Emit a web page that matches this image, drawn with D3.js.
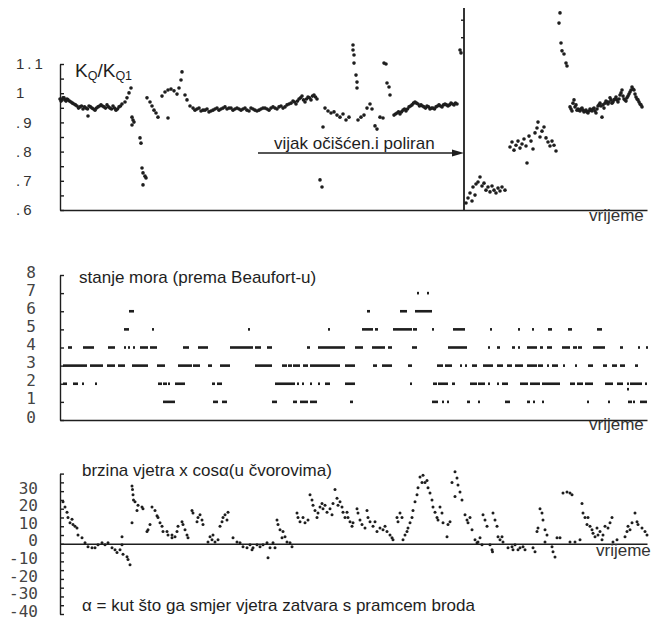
<!DOCTYPE html>
<html><head><meta charset="utf-8">
<script src="https://cdn.jsdelivr.net/npm/d3@7"></script>
<style>
html,body{margin:0;padding:0;background:#fff;}
svg{display:block;}
</style></head>
<body>
<svg id="c" width="662" height="620"></svg>
<script>
// ---------- DATA ----------
// common time axis (arbitrary units)
const timeDomain = [0, 117.4];

// Panel 1: K_Q / K_Q1 ratio  [time, value]
const kqRatio = [
[0,0.980],[0.2,0.973],[0.4,0.977],[0.6,0.984],[0.8,0.984],[1.0,0.977],[1.2,0.973],[1.4,0.980],[1.6,0.977],[1.9,0.973],[2.2,0.970],[2.5,0.966],
[2.8,0.963],[3.1,0.960],[3.4,0.956],[3.7,0.949],[4.0,0.953],[4.3,0.956],[4.6,0.946],[4.9,0.953],[5.2,0.949],[5.5,0.946],[5.6,0.922],[5.8,0.956],
[6.1,0.953],[6.4,0.949],[6.7,0.946],[7.0,0.942],[7.3,0.949],[7.6,0.953],[7.9,0.956],[8.2,0.960],[8.5,0.956],[8.8,0.953],[9.1,0.949],[9.4,0.960],
[9.7,0.953],[10.0,0.949],[10.3,0.946],[10.6,0.956],[10.9,0.949],[11.2,0.942],[11.5,0.946],[11.8,0.953],[12.1,0.956],
[12.4,0.963],[13.0,0.970],[13.4,0.984],[13.8,1.001],[14.2,1.018],[14.4,0.918],[14.6,0.908],
[14.4,0.891],[14.8,0.901],[16.0,0.847],[16.2,0.829],[16.4,0.744],[16.6,0.727],[17.0,0.716],[17.2,0.710],[16.6,0.686],[17.4,0.984],
[18.0,0.970],[18.4,0.956],[18.8,0.942],[19.2,0.932],[19.6,0.918],[21.6,0.915],[20.4,0.990],[21.0,1.004],[21.6,1.011],[22.2,1.014],
[22.8,1.008],[23.4,0.997],[23.8,1.018],[24.2,1.045],[24.4,1.073],[25.0,0.994],[25.4,0.977],[26.0,0.956],[26.6,0.949],
[27.0,0.942],[27.4,0.946],[27.8,0.949],[28.2,0.939],[28.6,0.942],[29.0,0.942],[29.4,0.946],[29.8,0.936],[30.2,0.939],[30.6,0.942],
[31.0,0.946],[31.4,0.949],[31.8,0.942],[32.2,0.946],[32.6,0.949],[33.0,0.953],[33.4,0.946],[33.8,0.949],[34.2,0.949],[34.6,0.942],
[35.0,0.946],[35.4,0.949],[35.8,0.946],[36.2,0.942],[36.6,0.946],[37.0,0.949],[37.4,0.942],[37.8,0.939],[38.2,0.949],[38.6,0.946],
[39.0,0.942],[39.4,0.939],[39.8,0.942],[40.2,0.946],[40.6,0.949],[41.0,0.949],[41.4,0.946],[41.8,0.942],[42.2,0.949],[42.6,0.953],
[43.0,0.949],[43.4,0.946],[43.8,0.953],[44.2,0.956],[44.6,0.949],[45.0,0.953],[45.4,0.960],[45.8,0.963],[46.2,0.966],[46.6,0.973],
[46.9,0.970],[47.2,0.963],[47.5,0.973],[47.8,0.980],[48.1,0.984],[48.4,0.990],[48.7,0.977],[49.0,0.970],[49.3,0.980],[49.6,0.987],
[49.9,0.984],[50.2,0.977],[50.5,0.990],[50.8,0.994],[51.1,0.987],[51.4,0.980],
[52.0,0.703],[52.4,0.679],[52.6,0.884],[53.0,0.949],[53.6,0.939],[54.2,0.932],[54.8,0.936],
[55.4,0.925],[56.0,0.918],[56.6,0.929],[57.2,0.908],[57.8,0.918],[58.6,1.165],[58.6,1.148],[58.8,1.131],[58.8,1.103],[59.2,1.062],
[59.4,1.038],[59.4,1.018],[59.6,0.908],[60.2,0.918],[60.8,0.925],[61.4,0.949],[62.0,0.963],[62.4,0.946],[63.0,0.888],[63.4,0.877],
[64.0,0.918],[64.6,0.915],[64.8,1.103],[65.2,1.100],[65.4,1.035],[65.8,1.021],[66.0,0.994],
[66.8,0.925],[67.1,0.929],[67.4,0.932],[67.7,0.936],[68.0,0.929],[68.3,0.936],[68.6,0.942],[68.9,0.946],[69.2,0.939],[69.5,0.946],
[69.8,0.953],[70.1,0.956],[70.4,0.960],[70.7,0.966],[71.0,0.970],[71.3,0.966],[71.6,0.963],[71.9,0.956],[72.2,0.960],[72.5,0.956],
[72.8,0.953],[73.1,0.949],[73.4,0.956],[73.7,0.953],[74.0,0.946],[74.3,0.949],[74.6,0.949],[74.9,0.946],[75.2,0.953],[75.5,0.956],
[75.8,0.960],[76.1,0.956],[76.4,0.953],[76.7,0.960],[77.0,0.963],[77.3,0.960],[77.6,0.956],[77.9,0.960],[78.2,0.966],[78.5,0.963],
[78.8,0.960],[79.1,0.966],[79.4,0.963],[80.0,1.148],[80.2,1.138],
[81.2,0.624],[81.6,0.641],[82.0,0.658],[82.4,0.631],[82.6,0.679],[83.0,0.651],[83.2,0.689],[83.6,0.696],[84.0,0.713],[84.4,0.682],
[84.8,0.692],[85.2,0.668],[85.6,0.679],[86.0,0.662],[86.4,0.682],[86.8,0.668],[87.2,0.658],[87.6,0.675],[88.0,0.665],[88.4,0.679],
[89.0,0.668],
[90.0,0.816],[90.4,0.833],[90.8,0.805],[91.2,0.822],[91.6,0.836],[92.0,0.812],[92.4,0.826],[92.8,0.843],[93.2,0.819],[93.4,0.761],
[93.8,0.853],[94.2,0.836],[94.6,0.809],[95.0,0.864],[95.4,0.881],[95.6,0.901],[96.0,0.850],[96.4,0.870],[96.8,0.884],[97.2,0.847],
[97.6,0.833],[98.0,0.819],[98.4,0.836],[98.8,0.822],[99.2,0.802],
[100.0,1.275],[99.8,1.240],[100.2,1.172],[100.4,1.145],[100.8,1.134],[101.2,1.103],[101.4,1.093],
[102.0,0.953],[102.2,0.946],[102.4,0.939],[102.6,0.966],[102.8,0.977],[103.0,0.953],[103.2,0.960],[103.4,0.942],[103.6,0.946],[103.8,0.942],
[104.0,0.939],[104.2,0.946],[104.4,0.949],[104.6,0.942],[104.8,0.936],[105.0,0.939],[105.2,0.942],[105.4,0.936],[105.6,0.932],[105.8,0.939],
[106.0,0.946],[106.2,0.942],[106.4,0.939],[106.6,0.946],[106.8,0.949],[107.0,0.939],[107.2,0.932],[107.4,0.946],[107.6,0.956],[107.8,0.960],
[108.0,0.966],[108.2,0.956],[108.4,0.918],[108.6,0.960],[108.8,0.949],[109.0,0.966],[109.2,0.973],[109.4,0.970],[109.6,0.963],[109.8,0.970],
[110.0,0.984],[110.2,0.977],[110.4,0.966],[110.6,0.970],[110.8,0.977],[111.0,0.980],[111.2,0.987],[111.4,0.977],[111.6,0.970],[111.8,0.980],
[112.0,0.994],[112.2,1.001],[112.4,1.011],[112.6,0.990],[112.8,0.980],[113.0,0.977],[113.2,0.973],[113.4,0.984],[113.6,0.990],[113.8,0.997],
[114.0,1.004],[114.2,1.011],[114.4,1.021],[114.6,1.014],[114.8,1.011],[115.0,0.997],[115.2,0.987],[115.4,0.980],[115.6,0.977],[115.8,0.970],
[116.0,0.963],[116.2,0.960],[116.4,0.953]
];
const kqTicks = [0.6,0.65,0.7,0.75,0.8,0.85,0.9,0.95,1.0,1.05,1.1];
const kqTickLabels = [[1.1,"1.1"],[1.0,"1"],[0.9,".9"],[0.8,".8"],[0.7,".7"],[0.6,".6"]];
const cleaningTime = 80.8;      // propeller cleaned and polished
const arrowStartTime = 39.6;
const arrowValue = 0.795;
const annotationText = "vijak očišćen.i poliran";

// Panel 2: sea state (Beaufort)  [start, end, level]
const seaState = [
[71.4,71.8,7],[73.4,73.8,7],
[13.8,14.8,6],[61.4,62.0,6],[68.0,69.4,6],[71.0,74.4,6],
[12.8,13.8,5],[18.4,18.8,5],[37.6,38.0,5],[53.6,54.0,5],[60.4,62.6,5],[63.0,63.6,5],[66.6,70.4,5],[70.6,71.4,5],[74.4,74.6,5],
[78.6,81.0,5],[86.0,86.4,5],[91.6,92.0,5],[94.4,94.6,5],[97.6,98.4,5],[101.6,102.4,5],[107.4,108.4,5],
[1.6,2.4,4],[4.6,6.8,4],[9.6,11.0,4],[12.8,13.2,4],[13.6,14.0,4],[14.6,14.8,4],[16.0,17.6,4],[18.0,19.4,4],[24.6,25.8,4],[27.6,29.6,4],
[34.0,38.6,4],[39.0,40.2,4],[41.4,42.4,4],[49.4,50.0,4],[51.6,57.0,4],[59.0,60.6,4],[62.4,65.0,4],[65.6,66.4,4],[70.4,71.4,4],[77.6,81.4,4],
[85.6,86.0,4],[87.4,88.0,4],[90.4,91.0,4],[91.6,92.0,4],[93.4,95.4,4],[96.0,96.6,4],[97.4,98.4,4],[100.4,102.0,4],[102.6,103.4,4],[103.6,104.4,4],
[106.6,109.0,4],[112.0,112.6,4],[115.6,116.0,4],[117.2,117.4,4],
[0.6,5.4,3],[6.0,8.6,3],[9.4,11.0,3],[11.6,13.0,3],[14.4,17.6,3],[19.4,21.0,3],[23.6,26.4,3],[26.6,28.0,3],[29.6,30.4,3],[32.0,34.0,3],
[39.0,42.4,3],[44.4,45.4,3],[45.6,46.4,3],[46.6,48.0,3],[48.6,49.6,3],[50.0,56.0,3],[57.0,59.0,3],[62.6,63.4,3],[64.4,66.4,3],[69.6,70.4,3],
[75.4,76.6,3],[77.0,78.4,3],[80.0,80.4,3],[81.0,81.4,3],[82.4,83.4,3],[84.6,86.6,3],[87.4,88.6,3],[89.4,90.4,3],[91.0,92.6,3],[93.4,95.4,3],
[95.6,96.6,3],[97.4,97.6,3],[98.4,99.6,3],[100.6,101.0,3],[103.0,103.4,3],[105.6,106.6,3],[108.6,109.4,3],[110.4,111.4,3],[112.0,113.0,3],[115.0,115.6,3],
[0.6,1.4,2],[2.6,3.6,2],[4.4,4.6,2],[7.0,7.4,2],[19.6,20.4,2],[20.6,21.4,2],[21.6,22.0,2],[23.0,25.0,2],[30.4,31.0,2],[31.4,32.4,2],
[43.0,47.0,2],[47.4,47.6,2],[48.4,48.6,2],[50.0,50.4,2],[51.6,52.0,2],[53.0,54.0,2],[57.0,59.0,2],[70.0,70.4,2],[74.6,75.4,2],[75.6,77.6,2],
[78.4,79.0,2],[82.0,83.4,2],[83.6,85.0,2],[85.6,86.0,2],[87.4,87.6,2],[88.4,89.6,2],[92.0,93.6,2],[94.0,96.0,2],[96.4,100.0,2],[102.0,103.0,2],
[103.4,104.6,2],[105.0,106.6,2],[109.0,110.6,2],[111.4,112.6,2],[113.4,113.6,2],[114.0,116.4,2],[117.0,117.4,2],[113.4,113.6,1.7],
[20.6,23.0,1],[30.6,31.6,1],[32.4,33.4,1],[42.4,43.4,1],[46.6,47.4,1],[48.0,49.6,1],[50.0,51.4,1],[58.0,58.6,1],[74.4,75.6,1],[76.4,76.6,1],
[77.4,77.6,1],[81.4,82.0,1],[83.6,84.0,1],[89.0,90.0,1],[93.4,94.0,1],[94.6,95.0,1],[96.4,96.6,1],[105.4,105.6,1],[109.6,110.0,1],[113.6,114.4,1],
[114.6,115.0,1],[116.0,117.4,1]
];
const seaTicks = [0,1,2,3,4,5,6,7,8];
const seaTickLabels = ["0","1","2","3","4","5","6","7","8"];

// Panel 3: wind speed x cos(alpha) in knots  [time, value]
const windComp = [
[0.6,24],[1.0,21],[1.4,18],[1.6,15],[2.0,12],[2.4,14],[2.6,11],[3.0,10],[3.4,9],[3.6,5],[4.4,3.4],[5.0,0.6],[5.6,-1.7],[6.4,-2.3],
[7.0,-2.3],[7.6,-0.6],[8.4,0.6],[9.0,-0.6],[9.6,0.6],[10.4,-2.3],[11.0,-3.4],[11.4,-5],[12.0,-3.4],[12.4,-0.6],[12.6,-6],[13.4,-7.4],
[13.6,-9],[14.0,-12],[12.4,4],
[14.4,33],[14.5,31],[14.6,28],[14.7,25],[15.0,24],[15.6,22],[15.4,19],[14.4,12],[16.4,21],[16.6,20],[18.4,21],[19.0,19],[19.4,16],
[17.6,8],[17.4,7],[18.0,11],[19.6,15],[20.0,12],[20.4,10],[20.6,7],[21.4,7],[21.6,5],[22.4,5],[23.0,4],[22.4,3.4],[23.4,7],[23.6,10],
[24.4,12.5],[24.6,11],[25.0,8],[25.4,5],[25.6,3.4],[26.4,19],[26.6,17.6],[27.4,12.5],[27.6,15],[28.0,16.5],[28.4,13.6],[28.6,11],
[29.6,1],[30.0,4],[30.4,2.3],[30.6,5],[31.0,1],[31.6,2.3],[32.0,10],[32.4,12.5],[32.6,15],[33.0,16.5],[33.4,13.6],[33.6,18],
[34.6,3.4],[35.4,1],[36.0,0.6],[36.6,-1.7],[37.4,-2.3],[38.0,-0.6],[38.4,-3.4],[38.6,-2.3],[39.4,-0.6],[40.0,-1.7],[40.6,-0.6],
[41.4,0.6],[42.0,-2.3],[41.6,-8],[42.6,0.6],[43.0,-2.3],[43.4,13.6],[43.6,11],[44.0,8],[44.4,3.4],[44.6,7],[45.0,4],[45.4,1],
[46.0,0.6],[46.4,-1.7],[47.4,17.6],[47.6,15],[48.0,12.5],[48.6,15],[49.0,12],[49.6,13.6],[50.0,28],[50.4,25],[50.6,22],[51.0,19],
[51.4,15],[51.6,17.6],[52.0,21],[52.4,23],[52.6,20],[53.0,22],[53.4,18],[54.0,20],[54.4,16.5],[54.6,23],[55.0,31],[55.4,26],
[55.6,22],[56.0,24],[56.4,21],[56.6,18],[57.0,15],[57.4,18],[57.6,15],[58.0,12.5],[58.4,10],[58.6,12],[59.4,20],[59.6,17.6],
[60.0,13.6],[60.4,11],[61.0,9],[61.4,19],[61.6,15],[62.0,12.5],[62.6,10],[63.0,12.5],[63.4,7],[64.0,9],[64.6,8],[65.0,10],
[65.4,7],[66.0,5],[66.4,3.4],[66.6,2.3],[67.4,15],[67.6,12.5],[68.0,17.6],[68.4,15],[68.6,2.3],[69.0,5],[69.4,7],[69.6,9],
[70.0,12],[70.4,15],[70.6,19],[71.0,24],[71.4,28],[71.6,32],[72.0,38],[72.4,35],[72.6,39],[73.0,35],[73.4,36],[73.6,32],
[74.0,29],[74.4,25],[74.6,21],[75.0,18],[75.4,15],[75.6,13.6],[76.0,21],[76.4,17.6],[76.6,12],[77.4,4],[77.6,11],[78.0,12.5],
[78.4,35],[79.0,41],[79.4,37.5],[79.6,33.5],[80.0,29.5],[79.0,27],[80.4,25],[81.0,16.5],[81.4,13.6],[81.6,12],[82.0,15],[82.4,8],
[83.0,2.3],[83.4,0.6],[83.6,1],[84.0,3.4],[84.4,-0.6],[84.6,16.5],[85.0,13.6],[85.4,10],[86.0,-0.6],[86.4,-3.4],[86.5,-4.5],
[86.6,17.6],[87.0,13.6],[87.4,10],[87.6,4],[88.0,2.3],[88.4,4],[88.6,1],[89.6,-2.3],[90.4,-1.7],[90.6,-3.4],[91.0,-0.6],
[91.6,-3.4],[92.0,-2.3],[92.6,-1.7],[93.0,-3.4],[94.6,-2.3],[95.0,-4.5],[95.4,7],[95.6,9],[96.0,20],[96.4,17.6],[96.6,13.6],
[97.0,8],[97.4,5],[97.0,1],[98.4,-1.7],[98.6,-4.5],[99.0,-7.5],[99.4,3.4],[100.0,3.4],[100.6,29],[101.4,29.5],[102.0,29],
[102.4,28],[102.0,1],[103.0,1],[104.0,2.3],[104.4,23],[104.6,17.6],[105.0,15],[105.6,15],[105.4,11],[106.0,10],[106.4,8],
[106.6,6],[107.0,4],[107.4,9],[107.6,5],[108.0,7],[108.4,2.3],[108.6,5],[109.0,10],[109.6,9],[110.0,12],[110.4,15],[110.6,1],
[111.4,2.3],[113.0,4],[113.4,7],[113.6,10],[114.0,8],[114.4,12],[115.0,17.6],[115.4,12.5],[115.6,11],[116.4,9],[117.0,7],[117.4,5]
];
const windTicks = d3.range(-40, 41, 5);
const windTickLabels = [30,20,10,0,-10,-20,-30,-40];

const kqTitle = ["K","Q","/","K","Q1"];
const seaTitle = "stanje mora (prema Beaufort-u)";
const windTitle = "brzina vjetra x cosα(u čvorovima)";
const alphaNote = "α = kut što ga smjer vjetra zatvara s pramcem broda";
const timeLabel = "vrijeme";

// ---------- DRAW ----------
const ink = "#1e1e1e";
const svg = d3.select("#c");
svg.append("rect").attr("width",662).attr("height",620).attr("fill","#fff");

const x = d3.scaleLinear().domain(timeDomain).range([60, 647]);
const sans = "'Liberation Sans', Arial, sans-serif";
const mono = "'DejaVu Sans Mono', monospace";

function yAxis(g, scale, ticks){
  const ax = d3.axisRight(scale).tickValues(ticks).tickSize(4).tickSizeOuter(0).tickFormat("");
  g.call(ax);
  g.selectAll("path,line").attr("stroke", ink).attr("stroke-width", 1.4);
}
function xAxisLine(g){
  g.call(d3.axisBottom(x).tickValues([]).tickSizeOuter(0));
  g.selectAll("path").attr("stroke", ink).attr("stroke-width", 1.6);
}

// Panel 1
const y1 = d3.scaleLinear().domain([0.6, 1.1]).range([210, 64]);
const p1 = svg.append("g");
yAxis(p1.append("g").attr("transform","translate(60,0)"), y1, kqTicks);
xAxisLine(p1.append("g").attr("transform",`translate(0,${y1(0.6)})`));
p1.selectAll("text.tl").data(kqTickLabels).join("text")
  .attr("x",16).attr("y",d=>y1(d[0])).attr("dy","0.35em")
  .attr("font-family",sans).attr("font-size",15).attr("letter-spacing","3px").attr("fill","#333")
  .text(d=>d[1]);
const t1 = p1.append("text").attr("x",75).attr("y",77).attr("font-family",sans).attr("fill",ink);
t1.append("tspan").attr("font-size",19).text(kqTitle[0]);
t1.append("tspan").attr("font-size",12.5).attr("dy",3).text(kqTitle[1]);
t1.append("tspan").attr("font-size",19).attr("dy",-3).text(kqTitle[2]);
t1.append("tspan").attr("font-size",19).text(kqTitle[3]);
t1.append("tspan").attr("font-size",12.5).attr("dy",3).text(kqTitle[4]);
// cleaning event line
const cx = x(cleaningTime);
p1.append("line").attr("x1",cx).attr("x2",cx).attr("y1",8).attr("y2",y1(0.6))
  .attr("stroke",ink).attr("stroke-width",1.8);
p1.selectAll("line.vt").data([1.25,1.19]).join("line").attr("class","vt")
  .attr("x1",cx-3).attr("x2",cx).attr("y1",d=>y1(d)).attr("y2",d=>y1(d)).attr("stroke",ink).attr("stroke-width",1.4);
const ay = y1(arrowValue);
p1.append("line").attr("x1",x(arrowStartTime)).attr("x2",cx-8).attr("y1",ay).attr("y2",ay)
  .attr("stroke",ink).attr("stroke-width",1.5);
p1.append("path").attr("d",`M${cx-12},${ay-3.5}L${cx},${ay}L${cx-12},${ay+3.5}Z`).attr("fill",ink);
p1.append("text").attr("x",274).attr("y",ay-4)
  .attr("font-family",sans).attr("font-size",17).attr("fill",ink).text(annotationText);
p1.append("text").attr("x",589).attr("y",221).attr("font-family",sans).attr("font-size",17).attr("fill","#333").text(timeLabel);
p1.selectAll("circle").data(kqRatio).join("circle")
  .attr("cx",d=>x(d[0])).attr("cy",d=>y1(d[1])).attr("r",1.8).attr("fill",ink);

// Panel 2
const y2 = d3.scaleLinear().domain([0, 8]).range([420, 275]);
const p2 = svg.append("g");
yAxis(p2.append("g").attr("transform","translate(60,0)"), y2, seaTicks);
xAxisLine(p2.append("g").attr("transform",`translate(0,${y2(0)})`));
p2.selectAll("text.tl").data(seaTicks).join("text")
  .attr("x",36).attr("y",d=>y2(d)-3).attr("dy","0.35em").attr("text-anchor","end")
  .attr("font-family",mono).attr("font-size",16).attr("fill","#444")
  .text((d,i)=>seaTickLabels[i]);
p2.append("text").attr("x",79).attr("y",283).attr("font-family",sans).attr("font-size",17).attr("fill",ink).text(seaTitle);
p2.append("text").attr("x",589).attr("y",430).attr("font-family",sans).attr("font-size",17).attr("fill","#333").text(timeLabel);
p2.selectAll("rect.seg").data(seaState).join("rect").attr("class","seg")
  .attr("x",d=>x(d[0])).attr("width",d=>Math.max(2, x(d[1])-x(d[0])))
  .attr("y",d=>y2(d[2])-1.3).attr("height",2.6).attr("fill",ink);

// Panel 3
const y3 = d3.scaleLinear().domain([-40, 40]).range([614, 473.6]);
const p3 = svg.append("g");
yAxis(p3.append("g").attr("transform","translate(60,0)"), y3, windTicks);
xAxisLine(p3.append("g").attr("transform",`translate(0,${y3(0)})`));
p3.selectAll("text.tl").data(windTickLabels).join("text")
  .attr("x",38).attr("y",d=>y3(d)-3).attr("dy","0.35em").attr("text-anchor","end")
  .attr("font-family",mono).attr("font-size",16).attr("fill","#444")
  .text(d=>d);
p3.append("text").attr("x",82).attr("y",476).attr("font-family",sans).attr("font-size",17).attr("fill",ink).text(windTitle);
p3.append("text").attr("x",596).attr("y",556).attr("font-family",sans).attr("font-size",17).attr("fill","#333").text(timeLabel);
p3.append("text").attr("x",82).attr("y",611).attr("font-family",sans).attr("font-size",17).attr("fill",ink).text(alphaNote);
p3.selectAll("circle").data(windComp).join("circle")
  .attr("cx",d=>x(d[0])).attr("cy",d=>y3(d[1])).attr("r",1.5).attr("fill",ink);
</script>
</body></html>
